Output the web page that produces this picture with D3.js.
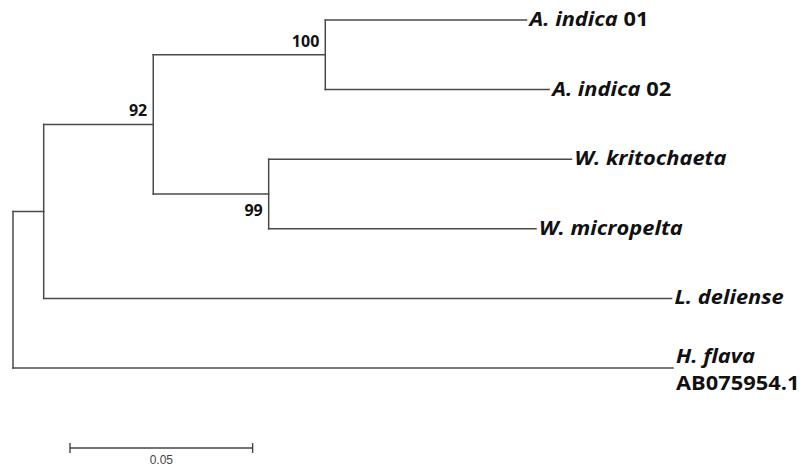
<!DOCTYPE html>
<html>
<head>
<meta charset="utf-8">
<script src="https://cdn.jsdelivr.net/npm/d3@7"></script>
<style>
  html, body { margin: 0; padding: 0; background: #fff; }
  svg { display: block; }
</style>
</head>
<body>
<svg id="tree" width="804" height="468"></svg>
<script>
// Tree topology: every node with its parent and branch length (substitutions/site)
const nodeIds    = ["root", "n1", "n2", "n3", "n4",
                    "A. indica 01", "A. indica 02", "W. kritochaeta", "W. micropelta",
                    "L. deliense", "H. flava"];
const parentIds  = ["",     "root", "n1", "n2", "n2",
                    "n3", "n3", "n4", "n4",
                    "n1", "root"];
const branchLens = [0, 0.0084, 0.0300, 0.0471, 0.0316,
                    0.0551, 0.0613, 0.0829, 0.0732,
                    0.1719, 0.1807];
// Bootstrap support for internal nodes (null = not shown)
const bootstrap  = [null, null, 92, 100, 99, null, null, null, null, null, null];

// Leaf labels: italic species name plus an upright suffix / accession line
const leafItalic = {"A. indica 01": "A. indica", "A. indica 02": "A. indica",
                    "W. kritochaeta": "W. kritochaeta", "W. micropelta": "W. micropelta",
                    "L. deliense": "L. deliense", "H. flava": "H. flava"};
const leafSuffix = {"A. indica 01": " 01", "A. indica 02": " 02"};
const leafSecondLine = {"H. flava": "AB075954.1"};

const scaleBarValue = 0.05;

const svg = d3.select("#tree");
const lineColor = "#4a4a4a";
const labelFont = "'Open Sans', Lato, sans-serif";

const table = nodeIds.map((id, i) => ({id, parent: parentIds[i], len: branchLens[i], boot: bootstrap[i]}));
const root = d3.stratify().id(d => d.id).parentId(d => d.parent || null)(table);

// cumulative distance from root
root.eachBefore(n => { n.dist = n.parent ? n.parent.dist + n.data.len : 0; });

const leaves = root.leaves();
const maxDist = d3.max(leaves, d => d.dist);

const x = d3.scaleLinear().domain([0, maxDist]).range([13, 673]);
const y = d3.scalePoint().domain(leaves.map(d => d.id)).range([20, 368]);

// leaves sit on the point scale; internal nodes midway between first and last child
root.eachAfter(n => {
  if (!n.children) n.yPos = y(n.id);
  else n.yPos = (n.children[0].yPos + n.children[n.children.length - 1].yPos) / 2;
});

const g = svg.append("g")
  .attr("fill", "none")
  .attr("stroke", lineColor)
  .attr("stroke-width", 1.5)
  .attr("stroke-linecap", "square");

// horizontal branches
g.selectAll("line.h")
  .data(root.descendants().filter(n => n.parent))
  .join("line")
  .attr("class", "h")
  .attr("x1", n => x(n.parent.dist))
  .attr("x2", n => x(n.dist))
  .attr("y1", n => n.yPos)
  .attr("y2", n => n.yPos);

// vertical connectors
g.selectAll("line.v")
  .data(root.descendants().filter(n => n.children))
  .join("line")
  .attr("class", "v")
  .attr("x1", n => x(n.dist))
  .attr("x2", n => x(n.dist))
  .attr("y1", n => n.children[0].yPos)
  .attr("y2", n => n.children[n.children.length - 1].yPos);

// bootstrap values: above the branch for an upper child, below for a lower child
svg.append("g")
  .selectAll("text")
  .data(root.descendants().filter(n => n.data.boot != null))
  .join("text")
  .attr("x", n => x(n.dist) - 6)
  .attr("y", n => {
    const lower = n.parent && n.parent.children.indexOf(n) === n.parent.children.length - 1;
    return lower ? n.yPos + 22 : n.yPos - 8;
  })
  .attr("text-anchor", "end")
  .attr("font-family", labelFont)
  .attr("font-weight", "bold")
  .attr("font-size", 16)
  .attr("fill", "#111")
  .text(n => n.data.boot);

// leaf labels (set slightly wide, like the condensed-bold original typeface)
const lbl = svg.append("g")
  .selectAll("g")
  .data(leaves)
  .join("g")
  .attr("transform", n => `translate(${x(n.dist) + 3},${n.yPos}) scale(1.15,1)`);

lbl.append("text")
  .attr("y", n => leafSecondLine[n.id] ? -5 : 6)
  .attr("font-family", labelFont)
  .attr("font-weight", "bold")
  .attr("font-size", 19)
  .attr("fill", "#111")
  .call(t => {
    t.append("tspan").attr("font-style", "italic").text(n => leafItalic[n.id]);
    t.append("tspan").text(n => leafSuffix[n.id] || "");
  });

lbl.filter(n => leafSecondLine[n.id])
  .append("text")
  .attr("y", 22)
  .attr("font-family", labelFont)
  .attr("font-weight", "bold")
  .attr("font-size", 19)
  .attr("fill", "#111")
  .text(n => leafSecondLine[n.id]);

// scale bar
const sbX0 = 70, sbY = 448;
const sbX1 = sbX0 + (x(scaleBarValue) - x(0));
const sb = svg.append("g").attr("stroke", "#444").attr("stroke-width", 1.4);
sb.append("line").attr("x1", sbX0).attr("x2", sbX1).attr("y1", sbY).attr("y2", sbY);
sb.append("line").attr("x1", sbX0).attr("x2", sbX0).attr("y1", sbY - 5).attr("y2", sbY + 5);
sb.append("line").attr("x1", sbX1).attr("x2", sbX1).attr("y1", sbY - 5).attr("y2", sbY + 5);
svg.append("text")
  .attr("x", (sbX0 + sbX1) / 2)
  .attr("y", 464)
  .attr("text-anchor", "middle")
  .attr("font-family", "'Liberation Sans', Arial, sans-serif")
  .attr("font-size", 12)
  .attr("fill", "#444")
  .text(scaleBarValue);
</script>
</body>
</html>
